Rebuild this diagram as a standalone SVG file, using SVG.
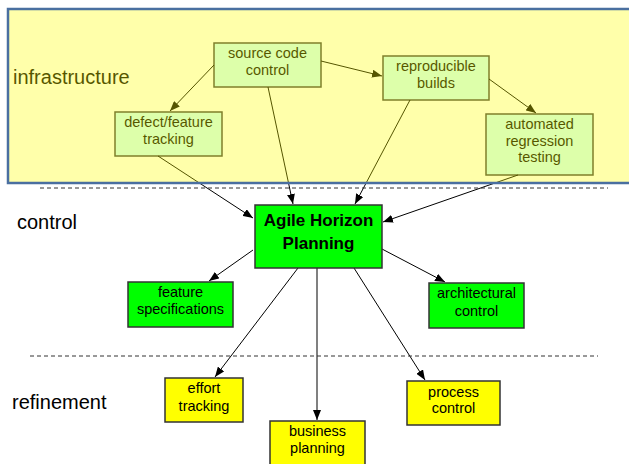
<svg xmlns="http://www.w3.org/2000/svg" width="629" height="464" viewBox="0 0 629 464">
<defs>
<marker id="ah" markerUnits="userSpaceOnUse" markerWidth="10" markerHeight="8" refX="10" refY="4" orient="auto">
<path d="M0,0 L10,4 L0,8 z" fill="#000"/>
</marker>
<style>
text{font-family:"Liberation Sans",Arial,sans-serif;fill:#000;}
.lbl{font-size:20px;}
.t{font-size:14.5px;text-anchor:middle;}
.b{font-size:17px;font-weight:bold;text-anchor:middle;}
.infra{fill:#ccffff;stroke:#404040;stroke-width:1.5;}
.green{fill:#00ff00;stroke:#333;stroke-width:1.5;}
.yellow{fill:#ffff00;stroke:#333;stroke-width:1.5;}
.c{stroke:#000;stroke-width:1;fill:none;marker-end:url(#ah);}
.dash{stroke:#333;stroke-width:1;stroke-dasharray:4,3;}
</style>
</defs>
<rect width="629" height="464" fill="#fff"/>
<text class="lbl" x="13" y="84">infrastructure</text>
<g id="source-code-control"><rect class="infra" x="214" y="43" width="107" height="44"/><text class="t" x="267.5" y="58">source code</text><text class="t" x="267.5" y="75">control</text></g>
<g id="defect-feature-tracking"><rect class="infra" x="115" y="112" width="107" height="44"/><text class="t" x="168.5" y="127">defect/feature</text><text class="t" x="168.5" y="144">tracking</text></g>
<g id="reproducible-builds"><rect class="infra" x="383" y="56" width="106" height="44"/><text class="t" x="436" y="71">reproducible</text><text class="t" x="436" y="88">builds</text></g>
<g id="automated-regression-testing"><rect class="infra" x="486" y="114" width="107" height="61"/><text class="t" x="539.5" y="129">automated</text><text class="t" x="539.5" y="146">regression</text><text class="t" x="539.5" y="162">testing</text></g>
<g id="connectors">
<line class="c" x1="214" y1="65" x2="170" y2="111"/>
<line class="c" x1="321" y1="61" x2="382" y2="76"/>
<line class="c" x1="489" y1="79" x2="536" y2="113"/>
<line class="c" x1="158" y1="156" x2="253" y2="218"/>
<line class="c" x1="268" y1="87" x2="293" y2="204"/>
<line class="c" x1="410" y1="100" x2="355" y2="204"/>
<line class="c" x1="518" y1="175" x2="383" y2="222"/>
<line class="c" x1="253" y1="250" x2="209" y2="281"/>
<line class="c" x1="382" y1="249" x2="445" y2="282"/>
<line class="c" x1="298" y1="268" x2="215" y2="377"/>
<line x1="317" y1="268" x2="317" y2="420" stroke="#808080" stroke-width="2" marker-end="url(#ah)"/>
<line class="c" x1="354" y1="268" x2="425" y2="380"/>
</g>
<rect x="8" y="9" width="640" height="174" fill="#ffff00" fill-opacity="0.333" stroke="#4a6fa0" stroke-width="2.5"/>
<line class="dash" x1="40" y1="188" x2="608" y2="188"/>
<line class="dash" x1="30" y1="356" x2="598" y2="356"/>
<text class="lbl" x="17" y="229">control</text>
<text class="lbl" x="12" y="409">refinement</text>
<g id="agile-horizon-planning"><rect class="green" x="255" y="205" width="127" height="63"/><text class="b" x="318.5" y="226">Agile Horizon</text><text class="b" x="318.5" y="249">Planning</text></g>
<g id="feature-specifications"><rect class="green" x="128" y="282" width="105" height="45"/><text class="t" x="180.5" y="297">feature</text><text class="t" x="180.5" y="314">specifications</text></g>
<g id="architectural-control"><rect class="green" x="429" y="283" width="95" height="45"/><text class="t" x="476.5" y="298">architectural</text><text class="t" x="476.5" y="316">control</text></g>
<g id="effort-tracking"><rect class="yellow" x="165" y="378" width="78" height="44"/><text class="t" x="204" y="393">effort</text><text class="t" x="204" y="411">tracking</text></g>
<g id="business-planning"><rect class="yellow" x="270" y="421" width="95" height="50"/><text class="t" x="317.5" y="436">business</text><text class="t" x="317.5" y="453">planning</text></g>
<g id="process-control"><rect class="yellow" x="407" y="381" width="93" height="44"/><text class="t" x="453.5" y="397">process</text><text class="t" x="453.5" y="413">control</text></g>
</svg>
